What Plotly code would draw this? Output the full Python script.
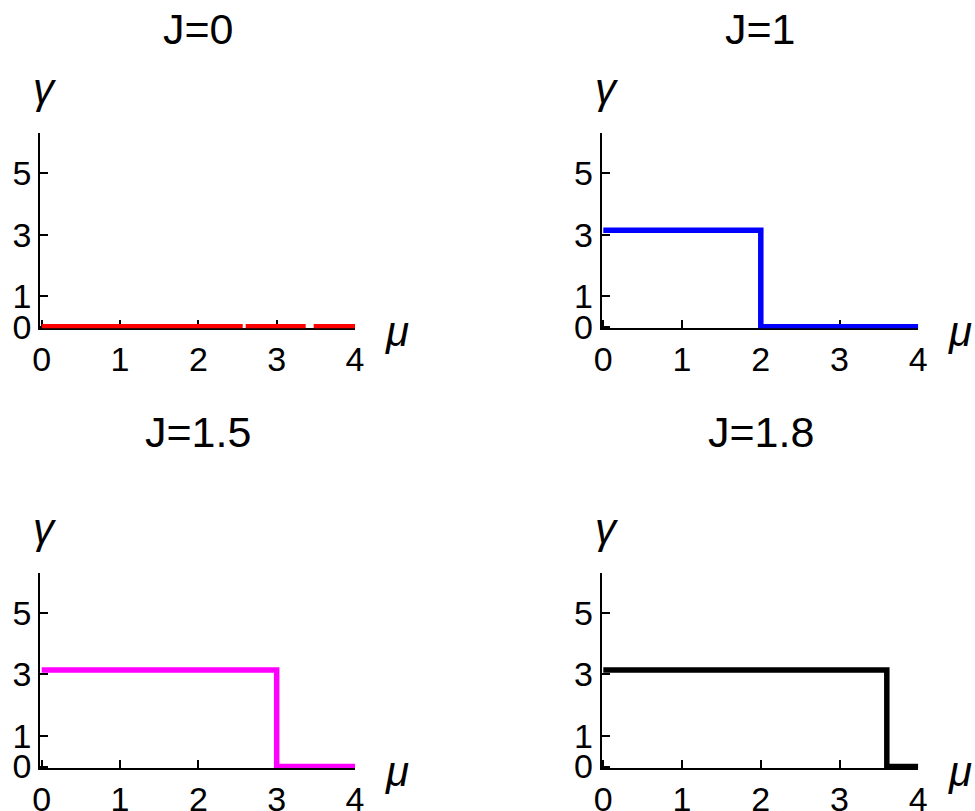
import plotly.graph_objects as go

W, H = 975, 811

# ---- data ----
titles = ["J=0", "J=1", "J=1.5", "J=1.8"]
mu_J0 = [0, 4]
gamma_J0 = [0, 0]
mu_J1 = [0, 2, 2, 4]
gamma_J1 = [3.14, 3.14, 0, 0]
mu_J15 = [0, 3, 3, 4]
gamma_J15 = [3.14, 3.14, 0, 0]
mu_J18 = [0, 3.6, 3.6, 4]
gamma_J18 = [3.14, 3.14, 0, 0]
x_ticks = [0, 1, 2, 3, 4]
y_ticks = [0, 1, 3, 5]

series = [
    (mu_J0, gamma_J0, "#ff0000", "201px,3px,60px,8px,50px"),
    (mu_J1, gamma_J1, "#0000ff", "solid"),
    (mu_J15, gamma_J15, "#ff00ff", "solid"),
    (mu_J18, gamma_J18, "#000000", "solid"),
]

# ---- layout (pixel geometry of each panel) ----
XR = [-0.02, 4.0]
YR = [-0.05, 6.3]
panels = [
    dict(x0=41.7, x4=355.0, y0=326.7, y5=173.3),
    dict(x0=603.3, x4=918.3, y0=326.7, y5=173.3),
    dict(x0=41.7, x4=355.0, y0=766.5, y5=612.7),
    dict(x0=603.3, x4=918.3, y0=766.5, y5=612.9),
]

FONT = "Liberation Sans, Arial, sans-serif"
fig = go.Figure()
layout = dict(
    width=W, height=H, margin=dict(l=0, r=0, t=0, b=0),
    paper_bgcolor="white", plot_bgcolor="white", showlegend=False,
    font=dict(family=FONT, color="black"),
)
annotations = []
for i, (p, (xs, ys, col, dash)) in enumerate(zip(panels, series)):
    n = "" if i == 0 else str(i + 1)
    ux = (p["x4"] - p["x0"]) / 4
    uy = (p["y0"] - p["y5"]) / 5
    left = p["x0"] + XR[0] * ux
    right = p["x0"] + XR[1] * ux
    bottom = p["y0"] - YR[0] * uy
    top = p["y0"] - YR[1] * uy
    axcommon = dict(showgrid=False, zeroline=False, showline=True, linecolor="black",
                    linewidth=2, ticks="inside", ticklen=8, tickwidth=2, tickcolor="black",
                    layer="below traces", tickfont=dict(size=34, family=FONT, color="black"),
                    automargin=False)
    layout["xaxis" + n] = dict(domain=[left / W, right / W], range=XR, tickvals=x_ticks,
                               anchor="y" + n, **axcommon)
    layout["yaxis" + n] = dict(domain=[1 - bottom / H, 1 - top / H], range=YR, tickvals=y_ticks,
                               anchor="x" + n, **axcommon)
    fig.add_trace(go.Scatter(x=xs, y=ys, mode="lines", xaxis="x" + n, yaxis="y" + n,
                             line=dict(color=col, width=5.5, dash=dash), hoverinfo="skip"))
    cx = (p["x0"] + p["x4"]) / 2
    ty = 29 if i < 2 else 432
    annotations.append(dict(text=titles[i], x=cx / W, y=1 - ty / H, xref="paper", yref="paper",
                            showarrow=False, xanchor="center", yanchor="middle",
                            font=dict(size=43, family=FONT, color="black")))
    gy = p["y0"] - 238
    annotations.append(dict(text="<i>γ</i>", x=(p["x0"] + 3) / W, y=1 - gy / H, xref="paper",
                            yref="paper", showarrow=False, xanchor="center", yanchor="middle",
                            font=dict(size=42, family=FONT, color="black")))
    annotations.append(dict(text="<i>μ</i>", x=(p["x4"] + 42) / W, y=1 - (p["y0"] + 5) / H,
                            xref="paper", yref="paper", showarrow=False, xanchor="center",
                            yanchor="middle", font=dict(size=42, family=FONT, color="black")))

layout["annotations"] = annotations
fig.update_layout(**layout)
fig.write_html("out.html", config={"displayModeBar": False},
               post_script="document.body.style.margin='0';")
